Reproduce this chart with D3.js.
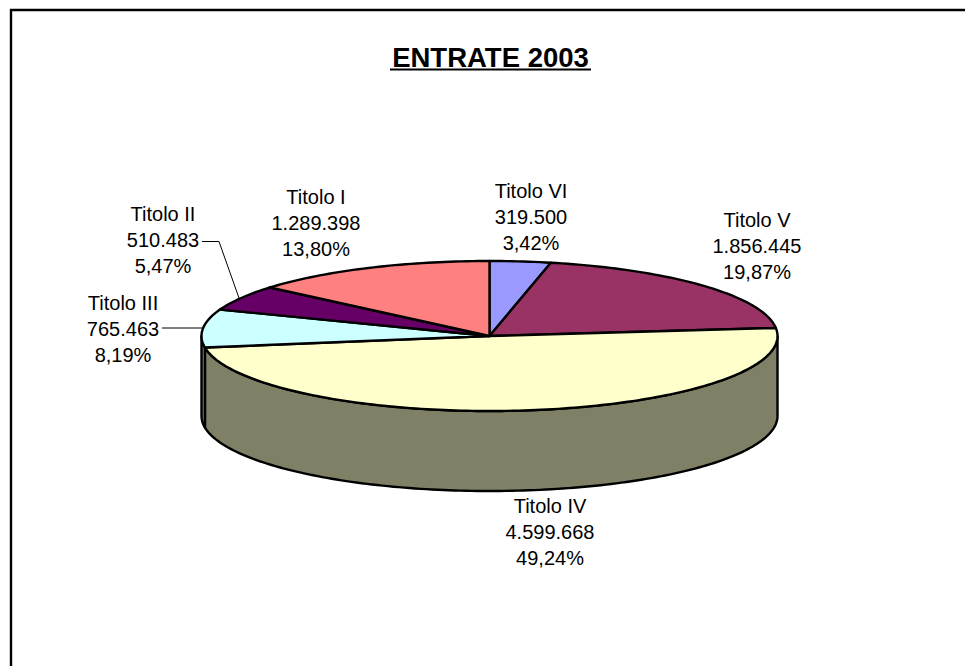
<!DOCTYPE html>
<html><head><meta charset="utf-8">
<script src="https://cdn.jsdelivr.net/npm/d3@7"></script>
<style>html,body{margin:0;padding:0;background:#fff}svg{display:block}</style>
</head><body><svg id="c" width="965" height="666"></svg>
<script>
const names = ["Titolo VI","Titolo V","Titolo IV","Titolo III","Titolo II","Titolo I"];
const amounts = [319500,1856445,4599668,765463,510483,1289398];
const amountLabels = ["319.500","1.856.445","4.599.668","765.463","510.483","1.289.398"];
const percentLabels = ["3,42%","19,87%","49,24%","8,19%","5,47%","13,80%"];
const sliceColors = ["#9999ff","#993366","#ffffcc","#ccffff","#660066","#ff8080"];
const sideColors = ["#4d4d80","#4d1a33","#808066","#668080","#330033","#804040"];
const labelCenters = [[531,192],[757,221],[550,507],[123,304],[163,215],[316,198]];

const svg = d3.select("#c");
const cx=489.5, cy=336, rx=288, ry=75, depth=80;
const font = "Liberation Sans, Arial, sans-serif";

svg.append("path").attr("d","M11,666V10H965").attr("fill","none").attr("stroke","#000").attr("stroke-width",2.4);

svg.append("text").attr("x",490.5).attr("y",67).attr("text-anchor","middle")
  .attr("font-family",font).attr("font-size",27.5).attr("font-weight","bold").attr("fill","#000")
  .text("ENTRATE 2003");
svg.append("line").attr("x1",390).attr("x2",591).attr("y1",69.5).attr("y2",69.5).attr("stroke","#000").attr("stroke-width",2);

const pie = d3.pie().sort(null).value(d=>d)(amounts);
const px = a => cx + rx*Math.sin(a);
const py = a => cy - ry*Math.cos(a);
const arcPts = (a0,a1,dy=0) => {
  const n = Math.max(2,Math.ceil((a1-a0)/0.02)); 
  return d3.range(n+1).map(i=>{const a=a0+(a1-a0)*i/n; return [px(a),py(a)+dy];});
};
const line = d3.line();

// outer wall: only the near half (a in pi/2..3pi/2) is visible
pie.forEach((s,i)=>{
  const a0=Math.max(s.startAngle,Math.PI/2), a1=Math.min(s.endAngle,1.5*Math.PI);
  if(a1<=a0) return;
  const top=arcPts(a0,a1), bot=arcPts(a0,a1,depth).reverse();
  svg.append("path").attr("d",line(top.concat(bot))+"Z").attr("fill",sideColors[i])
    .attr("stroke","#000").attr("stroke-width",2.4).attr("stroke-linejoin","round");
});
// top faces
pie.forEach((s,i)=>{
  const pts=[[cx,cy]].concat(arcPts(s.startAngle,s.endAngle));
  svg.append("path").attr("d",line(pts)+"Z").attr("fill",sliceColors[i])
    .attr("stroke","#000").attr("stroke-width",2.4).attr("stroke-linejoin","round");
});

// leader lines
svg.append("path").attr("d","M162,328H203").attr("fill","none").attr("stroke","#000").attr("stroke-width",1);
svg.append("path").attr("d","M202,241.5H219L239,298").attr("fill","none").attr("stroke","#000").attr("stroke-width",1);

// labels
names.forEach((n,i)=>{
  const [x,y]=labelCenters[i];
  const t=svg.append("text").attr("text-anchor","middle").attr("font-family",font)
    .attr("font-size",20).attr("fill","#000");
  [n,amountLabels[i],percentLabels[i]].forEach((str,k)=>{
    t.append("tspan").attr("x",x).attr("y",y+6+k*25.8).text(str);
  });
});
</script></body></html>
